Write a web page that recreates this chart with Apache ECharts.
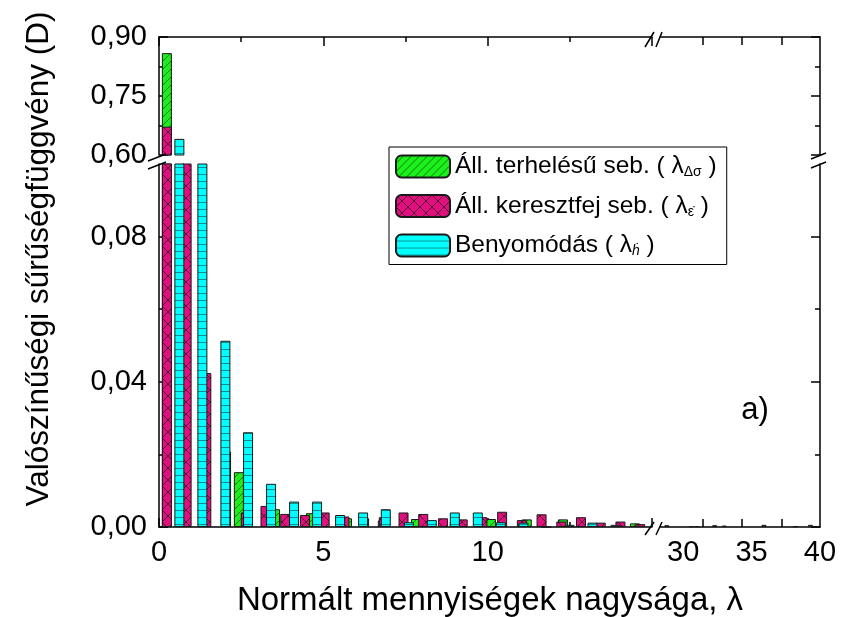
<!DOCTYPE html>
<html>
<head>
<meta charset="utf-8">
<script src="https://cdn.jsdelivr.net/npm/echarts@6/dist/echarts.min.js"></script>
<style>
  html, body { margin: 0; padding: 0; background: #fff; }
  #chart { width: 841px; height: 617px; }
</style>
</head>
<body>
<div id="chart"></div>
<script>
// Histogram bin centres (normalised quantity λ) and probability densities
const stressX = [0.24, 1.34, 2.43, 3.53, 4.62, 5.72, 6.81, 7.82, 9.00, 10.10, 11.19, 12.29, 13.38, 14.48, 30.6, 38.2];
const stressY = [0.859, 0.03, 0.0151, 0.0049, 0.0038, 0.0024, 0.0018, 0.0022, 0.0015, 0.0022, 0.0021, 0.0021, 0.0008, 0.0010, 0.0002, 0.0002];

const crossheadX = [0.24, 0.84, 1.44, 2.04, 2.64, 3.24, 3.84, 4.44, 5.04, 5.64, 6.24, 6.84, 7.44, 8.04, 8.64, 9.24,
                    9.84, 10.44, 11.04, 11.64, 12.24, 12.84, 13.44, 14.04, 14.64, 28.8, 32.3, 33.0, 35.9, 39.3];
const crossheadY = [0.672, 0.30, 0.0424, 0.0208, 0.0040, 0.0058, 0.0036, 0.0033, 0.0040, 0.0029, 0.0024, 0.0027, 0.0040,
                    0.0036, 0.0024, 0.0021, 0.0027, 0.0042, 0.0019, 0.0035, 0.0015, 0.0027, 0.0012, 0.0015, 0.0008,
                    0.0005, 0.0005, 0.0004, 0.0006, 0.0006];

const indentX = [0.62, 1.32, 2.02, 2.71, 3.41, 4.11, 4.81, 5.51, 6.21, 6.90, 7.60, 8.30, 9.00, 9.70, 10.40, 11.09,
                 11.79, 12.49, 13.19, 13.89, 31.0];
const indentY = [0.641, 0.20, 0.0513, 0.0261, 0.0119, 0.0070, 0.0070, 0.0033, 0.0040, 0.0049, 0.0013, 0.0019, 0.0040,
                 0.0040, 0.0013, 0.0012, 0.0, 0.0006, 0.0012, 0.0006, 0.0002];

const seriesNames = ['Áll. terhelésű seb.', 'Áll. keresztfej seb.', 'Benyomódás'];

// Axis ranges and tick values of the broken axes
const xLeftRange = [0, 15];
const xRightRange = [28.3, 40];
const xRightLabels = [30, 35, 40];
const xRightTicks = [31.4, 34.3, 37.2];
const yLowRange = [0, 0.1];
const yLowMajor = [0, 0.04, 0.08];
const yLowMinor = [0.02, 0.06];
const yHighRange = [0.6, 0.9];
const yHighMajor = [0.6, 0.75, 0.9];
const yHighMinor = [0.675, 0.825];

const FONT = "'Liberation Sans', Arial, sans-serif";

// Plot frame (pixels) and the break gaps
const F = { left: 159, right: 820, top: 37, bottom: 527, xCut1: 652, xCut2: 660, yCut1: 155, yCut2: 164 };

// Hatched fills
function hatch(bg, ink, kind) {
  const c = document.createElement('canvas');
  const w = kind === 'cross' ? 12 : 8;
  const h = kind === 'cross' ? 12 : (kind === 'horiz' ? 7 : 8);
  c.width = w; c.height = h;
  const g = c.getContext('2d');
  g.fillStyle = bg; g.fillRect(0, 0, w, h);
  g.strokeStyle = ink; g.lineWidth = 1;
  g.beginPath();
  if (kind === 'diag') {
    g.moveTo(-1, h + 1); g.lineTo(w + 1, -1);
    g.moveTo(-2, 2); g.lineTo(2, -2);
    g.moveTo(w - 2, h + 2); g.lineTo(w + 2, h - 2);
  } else if (kind === 'cross') {
    g.moveTo(0, 0); g.lineTo(w, h);
    g.moveTo(0, h); g.lineTo(w, 0);
  } else {
    g.moveTo(0, h - 0.5); g.lineTo(w, h - 0.5);
  }
  g.stroke();
  return { image: c, repeat: 'repeat' };
}

const fills = [
  hatch('#1cf01c', '#0b7d0b', 'diag'),
  hatch('#e0117f', '#5c0a33', 'cross'),
  hatch('#00ffff', '#118d8d', 'horiz')
];

const pairs = (xs, ys) => xs.map((x, i) => [x, ys[i]]);
const dataSets = [pairs(stressX, stressY), pairs(crossheadX, crossheadY), pairs(indentX, indentY)];

const fmt = v => v.toFixed(2).replace('.', ',');
const axisLine = { show: true, lineStyle: { color: '#000', width: 1.5 } };
const LABEL_SIZE = 29;

// grids: 0 upper-left, 1 upper-right, 2 lower-left, 3 lower-right
const grids = [
  { left: F.left, top: F.top, width: F.xCut1 - F.left, height: F.yCut1 - F.top },
  { left: F.xCut2, top: F.top, width: F.right - F.xCut2, height: F.yCut1 - F.top },
  { left: F.left, top: F.yCut2, width: F.xCut1 - F.left, height: F.bottom - F.yCut2 },
  { left: F.xCut2, top: F.yCut2, width: F.right - F.xCut2, height: F.bottom - F.yCut2 }
];

function xLeft(gridIndex, position, labels) {
  return {
    type: 'value', gridIndex, position, min: xLeftRange[0], max: xLeftRange[1], interval: 5,
    axisLine, splitLine: { show: false },
    axisTick: { show: true, inside: true, length: 9, lineStyle: { color: '#000', width: 1.5 } },
    minorTick: { show: true, splitNumber: 2, length: 5, lineStyle: { color: '#000', width: 1.5 } },
    axisLabel: { show: labels, showMaxLabel: false, fontSize: LABEL_SIZE, color: '#000', fontFamily: FONT, margin: 11 }
  };
}
function xRight(gridIndex, position, labels) {
  return {
    type: 'value', gridIndex, position, min: xRightRange[0], max: xRightRange[1],
    axisLine, splitLine: { show: false },
    axisTick: { show: true, inside: true, length: 8, customValues: xRightTicks, lineStyle: { color: '#000', width: 1.5 } },
    axisLabel: { show: labels, customValues: xRightLabels, fontSize: LABEL_SIZE, color: '#000', fontFamily: FONT, margin: 11 }
  };
}
function yPair(gridIndex, position, range, major, minor, labels) {
  return [{
    type: 'value', gridIndex, position, min: range[0], max: range[1],
    axisLine, splitLine: { show: false },
    axisTick: { show: true, inside: true, length: 9, customValues: major, lineStyle: { color: '#000', width: 1.5 } },
    axisLabel: { show: labels, customValues: major, formatter: fmt, fontSize: LABEL_SIZE, color: '#000', fontFamily: FONT, margin: 12 }
  }, {
    type: 'value', gridIndex, position, min: range[0], max: range[1],
    axisLine: { show: false }, splitLine: { show: false },
    axisTick: { show: true, inside: true, length: 5, customValues: minor, lineStyle: { color: '#000', width: 1.5 } },
    axisLabel: { show: false }
  }];
}

const xAxis = [
  xLeft(2, 'bottom', true),     // 0
  xRight(3, 'bottom', true),    // 1
  xLeft(0, 'top', false),       // 2
  xRight(1, 'top', false)       // 3
];
const yAxis = [
  ...yPair(2, 'left', yLowRange, yLowMajor, yLowMinor, true),     // 0,1
  ...yPair(0, 'left', yHighRange, yHighMajor, yHighMinor, true),  // 2,3
  ...yPair(3, 'right', yLowRange, yLowMajor, yLowMinor, false),   // 4,5
  ...yPair(1, 'right', yHighRange, yHighMajor, yHighMinor, false) // 6,7
];

// bars for each panel that can hold data: [xAxisIndex, yAxisIndex, barWidth]
const panels = [[2, 2, 10], [0, 0, 10], [1, 4, 5]];
const series = [];
panels.forEach(([xi, yi, bw]) => {
  dataSets.forEach((data, k) => {
    series.push({
      type: 'bar', name: seriesNames[k], xAxisIndex: xi, yAxisIndex: yi,
      data, barWidth: bw, barGap: '-100%', clip: true,
      itemStyle: { color: fills[k], borderColor: '#1a1a1a', borderWidth: 1 },
      emphasis: { disabled: true }
    });
  });
});

// axis-break marks
const brk = (x1, y1, x2, y2) => ({
  type: 'line', silent: true, z: 100,
  shape: { x1, y1, x2, y2 }, style: { stroke: '#000', lineWidth: 1.5 }
});
const graphic = [
  brk(F.left - 11, F.yCut1 + 6, F.left + 7, F.yCut1 - 1),
  brk(F.left - 11, F.yCut2 + 5, F.left + 7, F.yCut2 - 2),
  brk(F.right - 9, F.yCut1 + 4, F.right + 6, F.yCut1 - 2),
  brk(F.right - 9, F.yCut2 + 4, F.right + 6, F.yCut2 - 2),
  brk(F.xCut1 - 7, F.top + 10, F.xCut1 + 2, F.top - 5),
  brk(F.xCut2 - 4, F.top + 10, F.xCut2 + 2, F.top - 5),
  brk(F.xCut1 - 7, F.bottom + 8, F.xCut1 + 2, F.bottom - 5),
  brk(F.xCut2 - 4, F.bottom + 8, F.xCut2 + 2, F.bottom - 5),
  {
    type: 'text', x: 39, y: 259, rotation: Math.PI / 2, silent: true,
    style: { text: 'Valószínűségi sűrűségfüggvény (D)', font: '31.5px ' + FONT, fill: '#000', align: 'center', verticalAlign: 'middle' }
  },
  {
    type: 'text', x: 490, y: 601, silent: true,
    style: { text: 'Normált mennyiségek nagysága, λ', font: '33px ' + FONT, fill: '#000', align: 'center', verticalAlign: 'middle' }
  },
  {
    type: 'text', x: 755, y: 410, silent: true,
    style: { text: 'a)', font: '31px ' + FONT, fill: '#000', align: 'center', verticalAlign: 'middle' }
  }
];

const legendText = {
  'Áll. terhelésű seb.': 'Áll. terhelésű seb. ( λ{sub|Δσ} )',
  'Áll. keresztfej seb.': 'Áll. keresztfej seb. ( λ{sub|ε̇} )',
  'Benyomódás': 'Benyomódás ( λ{subi|ḣ} )'
};

const chart = echarts.init(document.getElementById('chart'), null, { renderer: 'canvas' });
chart.setOption({
  animation: false,
  backgroundColor: '#fff',
  grid: grids,
  xAxis, yAxis, series, graphic,
  legend: {
    data: seriesNames, orient: 'vertical', left: 389, top: 147,
    itemWidth: 54, itemHeight: 22, itemGap: 14,
    padding: [7, 10, 6, 6], borderColor: '#000', borderWidth: 1, backgroundColor: '#fff',
    selectedMode: false,
    formatter: n => legendText[n],
    textStyle: {
      fontSize: 24.5, color: '#000', fontFamily: FONT,
      rich: {
        sub: { fontSize: 14, fontFamily: FONT, padding: [12, 0, 0, 0] },
        subi: { fontSize: 14, fontFamily: FONT, fontStyle: 'italic', padding: [12, 0, 0, 0] }
      }
    }
  }
});
</script>
</body>
</html>
